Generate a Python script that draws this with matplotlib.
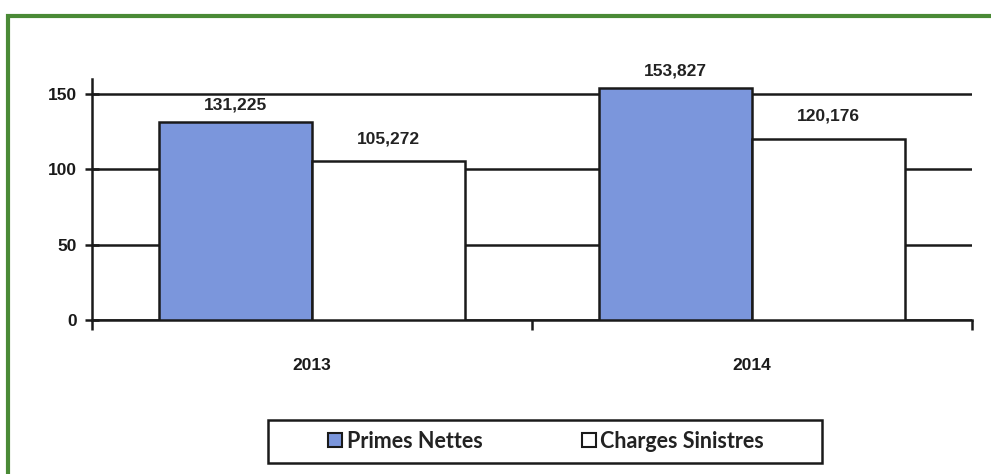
import matplotlib.pyplot as plt
import matplotlib.patches as mpatches
import numpy as np

years = ["2013", "2014"]
primes = [131.225, 153.827]
charges = [105.272, 120.176]
primes_lbl = ["131,225", "153,827"]
charges_lbl = ["105,272", "120,176"]

blue = "#7b96dc"

fig = plt.figure(figsize=(9.91, 4.74), dpi=100)
ax = fig.add_axes([92 / 991, 1 - 320 / 474, 880 / 991, 241 / 474])

x = np.arange(len(years))
w = 0.348
b1 = ax.bar(x - w / 2, primes, w, color=blue, edgecolor="#1a1a1a", linewidth=1.8, zorder=3)
b2 = ax.bar(x + w / 2, charges, w, color="white", edgecolor="#1a1a1a", linewidth=1.8, zorder=3)

for rect, t in zip(b1, primes_lbl):
    ax.annotate(t, (rect.get_x() + rect.get_width() / 2, rect.get_height()),
                xytext=(0, 7), textcoords="offset points", ha="center", va="bottom",
                fontsize=12.5, fontweight="bold", family="Liberation Sans", color="#222222")
for rect, t in zip(b2, charges_lbl):
    ax.annotate(t, (rect.get_x() + rect.get_width() / 2, rect.get_height()),
                xytext=(0, 11), textcoords="offset points", ha="center", va="bottom",
                fontsize=12.5, fontweight="bold", family="Liberation Sans", color="#222222")

ax.set_xlim(-0.5, 1.5)
ax.set_ylim(0, 160)
ax.set_yticks([0, 50, 100, 150])
ax.yaxis.grid(True, color="#1a1a1a", linewidth=1.8, zorder=1)
ax.set_axisbelow(True)
for s in ["top", "right"]:
    ax.spines[s].set_visible(False)
for s in ["left", "bottom"]:
    ax.spines[s].set_linewidth(1.8)
    ax.spines[s].set_color("#1a1a1a")

ax.tick_params(axis="y", direction="inout", length=10, width=1.8, pad=6,
               labelsize=12.5, colors="#1a1a1a")
ax.set_xticks(x)
ax.set_xticklabels(years)
ax.set_xticks([-0.5, 0.5, 1.5], minor=True)
ax.tick_params(axis="x", which="major", length=0, pad=27, labelsize=12.5, colors="#1a1a1a")
ax.tick_params(axis="x", which="minor", direction="out", length=7, width=1.8, colors="#1a1a1a")
for lab in ax.get_xticklabels() + ax.get_yticklabels():
    lab.set_fontweight("bold")
    lab.set_family("Liberation Sans")

# legend box
box = mpatches.Rectangle((268 / 991, 1 - 463 / 474), 554 / 991, 43 / 474, transform=fig.transFigure,
                         facecolor="white", edgecolor="#1a1a1a", linewidth=1.8)
fig.patches.append(box)

handles = [mpatches.Patch(facecolor=blue, edgecolor="#1a1a1a", linewidth=1.5, label="Primes Nettes"),
           mpatches.Patch(facecolor="white", edgecolor="#1a1a1a", linewidth=1.5, label="Charges Sinistres")]
leg = fig.legend(handles=handles, loc="center", ncol=2,
                 bbox_to_anchor=(546 / 991, 1 - 441 / 474),
                 frameon=False, handlelength=0.65, handleheight=0.65,
                 handletextpad=0.2, columnspacing=4.6,
                 prop={"family": "Lato", "weight": "bold", "size": 15.5})
for t in leg.get_texts():
    t.set_color("#222222")

border = mpatches.Rectangle((8 / 991, -0.1), 1.2, 0.1 + 1 - 16 / 474, transform=fig.transFigure,
                            fill=False, edgecolor="#4a8a36", linewidth=3)
fig.patches.append(border)

fig.savefig("out.png", dpi=100)
